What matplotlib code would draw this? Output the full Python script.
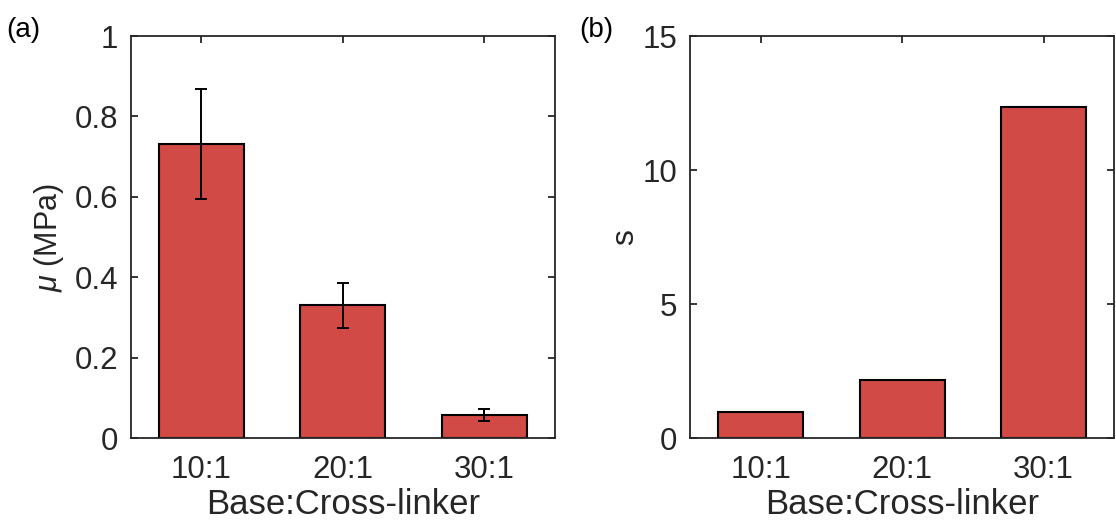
import numpy as np
from matplotlib import pyplot as plt

# Shear modulus and strain-stiffening parameter for three PDMS mixing ratios
ratios = ['10:1', '20:1', '30:1']
mu_mean = [0.731, 0.331, 0.058]
mu_err = [0.137, 0.056, 0.016]
s_vals = [0.97, 2.18, 12.35]

bar_color = '#d24a45'
ink = '#262626'

plt.rcParams['font.family'] = ['Liberation Sans', 'DejaVu Sans']
plt.rcParams['mathtext.fontset'] = 'custom'
plt.rcParams['mathtext.it'] = 'Liberation Sans:italic'

fig = plt.figure(figsize=(11.16, 5.31), dpi=100)
ax1 = fig.add_axes([0.1171, 0.1746, 0.3802, 0.7576])
ax2 = fig.add_axes([0.6183, 0.1746, 0.3802, 0.7576])

x = np.arange(1, len(ratios) + 1)


def style_axes(ax):
    for sp in ax.spines.values():
        sp.set_linewidth(1.3)
        sp.set_color(ink)
    ax.tick_params(direction='in', length=5, width=1.3, color=ink,
                   top=True, right=True, labelsize=22.5, labelcolor=ink)
    ax.tick_params(axis='x', pad=12)
    ax.tick_params(axis='y', pad=9)
    ax.set_xticks(x)
    ax.set_xticklabels(ratios)
    ax.set_xlim(0.5, 3.5)
    ax.set_xlabel('Base:Cross-linker', fontsize=25, color=ink, labelpad=2)


# (a) shear modulus with error bars
ax1.bar(x, mu_mean, width=0.6, color=bar_color, edgecolor='black', linewidth=1.5, zorder=2)
ax1.errorbar(x, mu_mean, yerr=mu_err, fmt='none', ecolor='black', elinewidth=1.4,
             capsize=4, capthick=1.4, zorder=3)
style_axes(ax1)
ax1.set_ylim(0, 1)
ax1.set_yticks([0, 0.2, 0.4, 0.6, 0.8, 1])
ax1.set_yticklabels(['0', '0.2', '0.4', '0.6', '0.8', '1'])
ax1.set_ylabel(r'$\mu$ (MPa)', fontsize=22, color=ink, labelpad=6)

# (b) stiffening parameter
ax2.bar(x, s_vals, width=0.6, color=bar_color, edgecolor='black', linewidth=1.5, zorder=2)
style_axes(ax2)
ax2.set_ylim(0, 15)
ax2.set_yticks([0, 5, 10, 15])
ax2.set_ylabel('s', fontsize=23, color=ink, labelpad=2)

fig.text(0.006, 0.93, '(a)', fontsize=20, color='black')
fig.text(0.519, 0.93, '(b)', fontsize=20, color='black')

fig.savefig('out.png', dpi=100)
